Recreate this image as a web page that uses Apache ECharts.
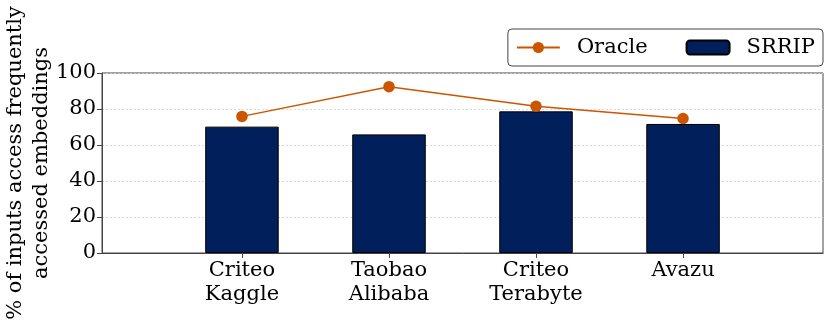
<!DOCTYPE html>
<html>
<head>
    <meta charset="utf-8">
    <title>Frequently accessed embeddings</title>
    <script src="https://cdn.jsdelivr.net/npm/echarts/dist/echarts.min.js"></script>
    <style>
        body { margin: 0; background: #fff; }
    </style>
</head>
<body>
    <div id="main" style="width: 831px;height:326px;"></div>
    <script type="text/javascript">
        // dataset names (two-line tick labels)
        var categories = ['Criteo\nKaggle', 'Taobao\nAlibaba', 'Criteo\nTerabyte', 'Avazu'];
        var oracle = [75.9, 92.4, 81.5, 74.7];
        var srrip = [70.2, 65.9, 78.7, 71.7];
        var yTicks = [0, 20, 40, 60, 80, 100];

        var font = 'DejaVu Serif';
        var fs = 21;
        var positions = categories.map(function (c, i) { return i; });

        var myChart = echarts.init(document.getElementById('main'));

        var option = {
            animation: false,
            textStyle: { fontFamily: font },
            grid: {
                left: 102, right: 8, top: 73, height: 180,
                containLabel: false,
                outerBoundsMode: 'none',
                show: true, borderColor: '#444', borderWidth: 1
            },
            legend: {
                right: 8, top: 29,
                orient: 'horizontal',
                padding: [8, 8, 8, 8],
                itemGap: 38,
                itemWidth: 43, itemHeight: 14,
                borderColor: '#444', borderWidth: 1, borderRadius: 4,
                textStyle: { fontFamily: font, fontSize: fs, color: '#000', padding: [0, 0, 0, 12] },
                data: ['Oracle', 'SRRIP']
            },
            xAxis: {
                type: 'value',
                min: -0.952,
                max: 3.952,
                splitLine: { show: false },
                axisLine: { onZero: false, lineStyle: { color: '#444' } },
                axisTick: { length: 5, customValues: positions, lineStyle: { color: '#444' } },
                axisLabel: {
                    customValues: positions,
                    formatter: function (v) { return categories[Math.round(v)]; },
                    fontFamily: font, fontSize: fs, color: '#000',
                    lineHeight: 24, margin: 6
                }
            },
            yAxis: {
                type: 'value',
                min: yTicks[0],
                max: yTicks[yTicks.length - 1],
                interval: 20,
                name: '% of inputs access frequently\naccessed embeddings',
                nameLocation: 'middle',
                nameGap: 47,
                nameMoveOverlap: false,
                nameTextStyle: { fontFamily: font, fontSize: fs, color: '#000', lineHeight: 26 },
                axisLine: { show: true, onZero: false, lineStyle: { color: '#444' } },
                axisTick: { show: true, length: 5, lineStyle: { color: '#444' } },
                axisLabel: { fontFamily: font, fontSize: fs, color: '#000', margin: 6 },
                splitLine: { lineStyle: { color: '#d0d0d0', type: [2, 2], width: 0.8 } }
            },
            series: [
                {
                    name: 'SRRIP',
                    type: 'bar',
                    barWidth: 73.5,
                    data: srrip.map(function (v, i) { return [positions[i], v]; }),
                    itemStyle: { color: '#001f5b', borderColor: '#000', borderWidth: 1 }
                },
                {
                    name: 'Oracle',
                    type: 'line',
                    z: 5,
                    symbol: 'circle',
                    symbolSize: 11.5,
                    data: oracle.map(function (v, i) { return [positions[i], v]; }),
                    lineStyle: { color: '#cc5500', width: 1.5 },
                    itemStyle: { color: '#cc5500' }
                }
            ]
        };

        myChart.setOption(option);
    </script>
</body>
</html>
